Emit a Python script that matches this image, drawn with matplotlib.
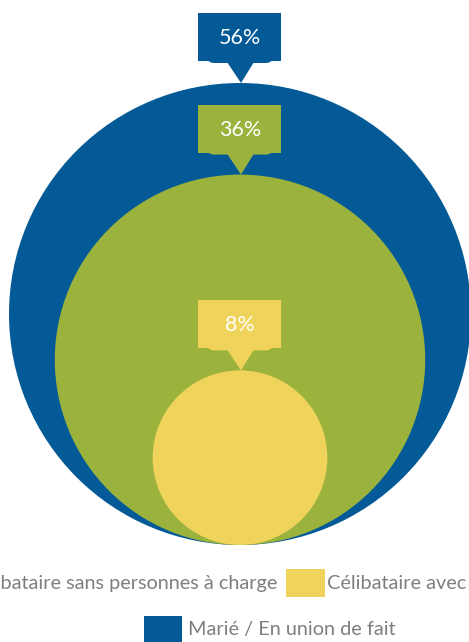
import numpy as np
from matplotlib import pyplot as plt
from matplotlib.patches import Circle, Rectangle, FancyBboxPatch, Polygon

plt.rcParams['font.family'] = ['Lato', 'DejaVu Sans']

# data
categories = ['Marié / En union de fait',
              'Célibataire sans personnes à charge',
              'Célibataire avec personnes à charge']
values = [56, 36, 8]
labels = ['56%', '36%', '8%']
colors = ['#035a97', '#9bb23c', '#efd35b']

W, H = 469, 642
fig = plt.figure(figsize=(W/100, H/100), dpi=100)
ax = fig.add_axes([0, 0, 1, 1])
ax.set_xlim(0, W)
ax.set_ylim(H, 0)
ax.axis('off')

# nested circles, area proportional to value, all touching the bottom line
cx, base, rmax = 240, 545, 231
vmax = max(values)
for v, lab, c in zip(values, labels, colors):
  r = rmax*np.sqrt(v/vmax)
  cy = base - r
  ax.add_patch(Circle((cx, cy), r, color=c, lw=0))
  top = cy - r
  # callout box with pointer
  ax.add_patch(FancyBboxPatch((cx-33, top-68), 66, 48,
                              boxstyle='round,pad=0,rounding_size=7', color=c, lw=0))
  ax.add_patch(Rectangle((cx-42, top-70), 83, 48, color=c, lw=0))
  ax.add_patch(Polygon([(cx-13, top-21), (cx+14, top-21), (cx+1, top)], color=c, lw=0))
  ax.text(cx, top-45, lab, color='white', fontsize=15.5, ha='center', va='center')

# legend (clipped by figure edges, like the original)
txtc = '#7f7f7f'
t1 = ax.text(277, 584, categories[1], color=txtc, fontsize=14.3, ha='right', va='center')
ax.add_patch(Rectangle((286, 569), 39, 28, color=colors[2], lw=0))
ax.text(327, 584, categories[2], color=txtc, fontsize=14.3, ha='left', va='center')
ax.add_patch(Rectangle((144, 616), 38, 28, color=colors[0], lw=0))
ax.text(188, 630, categories[0], color=txtc, fontsize=14.3, ha='left', va='center')

# green key sits left of its text, outside the picture
fig.canvas.draw()
bb = t1.get_window_extent()
ax.add_patch(Rectangle((bb.x0 - 47, 569), 39, 28, color=colors[1], lw=0))

fig.savefig('out.png', dpi=100)
